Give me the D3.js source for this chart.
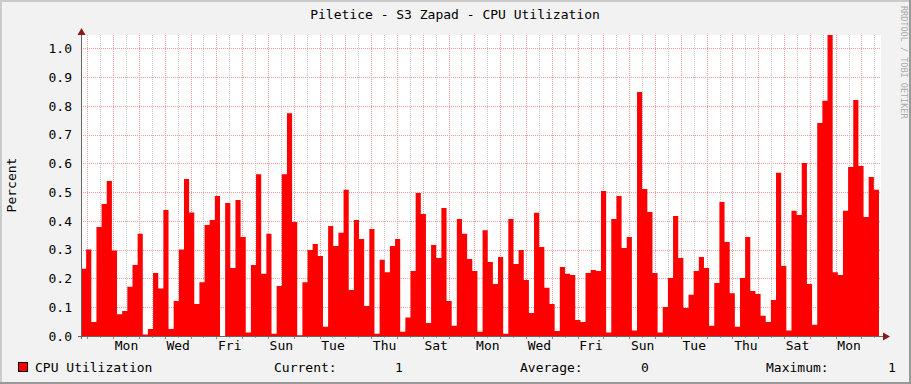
<!DOCTYPE html>
<html><head><meta charset="utf-8">
<script src="https://cdn.jsdelivr.net/npm/d3@7"></script>
<style>
html,body{margin:0;padding:0;background:#f2f2f2;}
svg{display:block;}
text{font-family:"DejaVu Sans Mono",monospace;}
</style></head>
<body>
<svg id="c" width="911" height="384"></svg>
<script>
const title = "Piletice - S3 Zapad - CPU Utilization";
const seriesName = "CPU Utilization";
const cpu = [
0.234,0.301,0.049,0.379,0.459,0.539,0.297,0.076,0.087,0.171,
0.247,0.355,0.005,0.024,0.219,0.165,0.438,0.024,0.122,0.301,
0.546,0.429,0.111,0.187,0.386,0.403,0.487,0.000,0.462,0.236,
0.473,0.344,0.012,0.247,0.562,0.216,0.355,0.008,0.174,0.562,
0.774,0.396,0.003,0.187,0.299,0.320,0.278,0.032,0.382,0.313,
0.359,0.508,0.160,0.403,0.337,0.104,0.372,0.008,0.265,0.222,
0.313,0.337,0.015,0.064,0.226,0.497,0.424,0.045,0.316,0.271,
0.445,0.122,0.036,0.407,0.355,0.268,0.226,0.015,0.368,0.257,
0.181,0.275,0.008,0.407,0.250,0.299,0.195,0.080,0.428,0.309,
0.168,0.111,0.017,0.240,0.216,0.212,0.056,0.049,0.219,0.229,
0.226,0.504,0.012,0.407,0.487,0.306,0.344,0.019,0.848,0.511,
0.431,0.219,0.012,0.101,0.202,0.417,0.271,0.097,0.143,0.226,
0.275,0.236,0.036,0.184,0.466,0.327,0.149,0.032,0.202,0.344,
0.156,0.146,0.070,0.049,0.125,0.567,0.243,0.019,0.435,0.421,
0.601,0.181,0.039,0.740,0.818,1.060,0.222,0.212,0.435,0.587,
0.820,0.591,0.414,0.553,0.508
];
const yTicks = [0,0.1,0.2,0.3,0.4,0.5,0.6,0.7,0.8,0.9,1.0];
const dayLabels = ["Mon","Wed","Fri","Sun","Tue","Thu","Sat","Mon","Wed","Fri","Sun","Tue","Thu","Sat","Mon"];
const legendStats = [["Current:","1"],["Average:","0"],["Maximum:","1"]];

const svg = d3.select("#c");
const W=911,H=384;
const L=81,R=881,T=35,B=336;

svg.append("rect").attr("width",W).attr("height",H).attr("fill","#f2f2f2");
svg.append("rect").attr("x",0).attr("y",0).attr("width",W).attr("height",2).attr("fill","#cbcbcb");
svg.append("rect").attr("x",0).attr("y",0).attr("width",2).attr("height",H).attr("fill","#cbcbcb");
svg.append("rect").attr("x",0).attr("y",H-2).attr("width",W).attr("height",2).attr("fill","#999");
svg.append("rect").attr("x",W-2).attr("y",0).attr("width",2).attr("height",H).attr("fill","#999");

svg.append("rect").attr("x",L).attr("y",T).attr("width",R-L).attr("height",B-T).attr("fill","#fff");

const y = d3.scaleLinear().domain([0,1]).range([B,48.3]);
const xd = d3.scaleLinear().domain([0,31]).range([L,R]);
const xb = d3.scaleBand().domain(d3.range(cpu.length+1)).range([L,879+ (879-L)/cpu.length]).padding(0);

const off = 0.244;
const major = d3.range(31).map(k=>off+k);
const minor = d3.range(31).map(k=>off+0.5+k).filter(v=>v<31);

const grid = svg.append("g");
grid.selectAll(".mn").data(minor).enter().append("line")
  .attr("x1",d=>Math.round(xd(d))+0.5).attr("x2",d=>Math.round(xd(d))+0.5)
  .attr("y1",T).attr("y2",B).attr("stroke","#c8c8c8").attr("stroke-dasharray","1,1");
grid.selectAll(".mj").data(major).enter().append("line")
  .attr("x1",d=>Math.round(xd(d))+0.5).attr("x2",d=>Math.round(xd(d))+0.5)
  .attr("y1",T).attr("y2",B).attr("stroke","#f29a9a").attr("stroke-dasharray","1,1");
grid.selectAll(".hz").data(yTicks.slice(1)).enter().append("line")
  .attr("x1",L).attr("x2",R)
  .attr("y1",d=>Math.round(y(d))+0.5).attr("y2",d=>Math.round(y(d))+0.5)
  .attr("stroke","#f29a9a").attr("stroke-dasharray","1,1");

svg.append("clipPath").attr("id","clp").append("rect").attr("x",L).attr("y",T).attr("width",R-L).attr("height",B-T);

const pts = cpu.map((v,i)=>({i:i,v:v}));
pts.push({i:cpu.length,v:cpu[cpu.length-1]});
const area = d3.area().curve(d3.curveStepAfter)
  .x(d=>xb(d.i)).y0(B).y1(d=>y(d.v));
svg.append("g").attr("clip-path","url(#clp)").append("path")
  .datum(pts).attr("d",area).attr("fill","#ff0000");

const ya = d3.axisLeft(y).tickValues(yTicks).tickFormat(d3.format(".1f")).tickSize(0).tickPadding(9);
const yg = svg.append("g").attr("transform",`translate(${L},0)`).call(ya);
yg.select(".domain").remove();
yg.selectAll("text").attr("font-size","13px").attr("fill","#000").attr("font-family","DejaVu Sans Mono");

const labPos = dayLabels.map((d,i)=>off+1.5+2*i);
const xa = d3.axisBottom(xd).tickValues(labPos).tickFormat((d,i)=>dayLabels[i]).tickSize(0).tickPadding(5);
const xg = svg.append("g").attr("transform",`translate(0,${B})`).call(xa);
xg.select(".domain").remove();
xg.selectAll("text").attr("font-size","13px").attr("fill","#000").attr("font-family","DejaVu Sans Mono");

svg.selectAll(".tk").data(major).enter().append("line")
  .attr("x1",d=>Math.round(xd(d))+0.5).attr("x2",d=>Math.round(xd(d))+0.5)
  .attr("y1",B).attr("y2",B+3).attr("stroke","#d46a6a");
svg.selectAll(".tk2").data(minor).enter().append("line")
  .attr("x1",d=>Math.round(xd(d))+0.5).attr("x2",d=>Math.round(xd(d))+0.5)
  .attr("y1",B).attr("y2",B+2).attr("stroke","#aaa");

svg.append("line").attr("x1",L+0.5).attr("x2",L+0.5).attr("y1",32).attr("y2",B+3).attr("stroke","#666");
svg.append("line").attr("x1",L-3).attr("x2",884).attr("y1",B+0.5).attr("y2",B+0.5).attr("stroke","#666");
svg.append("path").attr("d",`M${L-3.5},${35}L${L+0.5},${28}L${L+4.5},${35}Z`).attr("fill","#8b1a1a");
svg.append("path").attr("d",`M${883},${B-3.5}L${890},${B+0.5}L${883},${B+4.5}Z`).attr("fill","#8b1a1a");

svg.append("text").attr("x",455).attr("y",19).attr("text-anchor","middle").attr("font-size","13px").text(title);
svg.append("text").attr("transform","translate(16,185) rotate(-90)").attr("text-anchor","middle").attr("font-size","13px").text("Percent");
svg.append("text").attr("transform","translate(901,6) rotate(90)").attr("font-size","8.5px").attr("fill","#aaa").text("RRDTOOL / TOBI OETIKER");

svg.append("rect").attr("x",18.5).attr("y",362.5).attr("width",9).attr("height",9).attr("fill","#ff0000").attr("stroke","#000").attr("stroke-width",1);
svg.append("text").attr("x",35).attr("y",372).attr("font-size","13px").text(seriesName);
const lx = [[274,395],[520,641],[766,888]];
legendStats.forEach((s,i)=>{
  svg.append("text").attr("x",lx[i][0]).attr("y",372).attr("font-size","13px").text(s[0]);
  svg.append("text").attr("x",lx[i][1]).attr("y",372).attr("font-size","13px").text(s[1]);
});
</script>
</body></html>
